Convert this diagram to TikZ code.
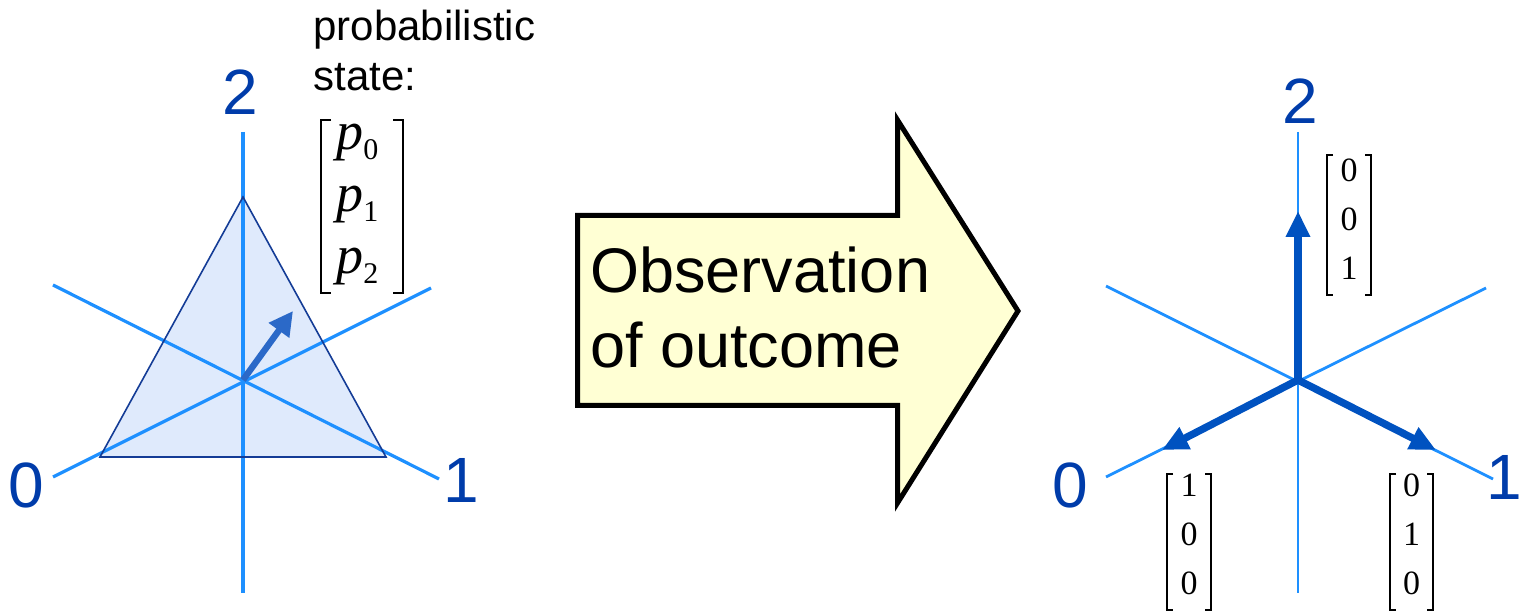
\documentclass[tikz,border=0pt]{standalone}
\usepackage{fontspec}
\setmainfont{Liberation Sans}
\newfontfamily\tnr{Liberation Serif}
\usetikzlibrary{arrows.meta}
\definecolor{axisblue}{RGB}{30,144,255}
\definecolor{labelblue}{RGB}{0,60,170}
\definecolor{stateblue}{RGB}{43,105,200}
\definecolor{resblue}{RGB}{0,82,192}
\definecolor{trifill}{RGB}{223,234,252}
\definecolor{triline}{RGB}{20,60,150}
\definecolor{yellowfill}{RGB}{255,255,212}
\begin{document}
\begin{tikzpicture}[x=0.5pt,y=-0.5pt,
  axis/.style={draw=axisblue, line width=1.6pt},
  lbl/.style={text=labelblue, font=\fontsize{32}{38}\selectfont, inner sep=0pt, anchor=base},
  brk/.style={draw=black, line width=1.1pt},
  ent/.style={font=\tnr\fontsize{17}{20}\selectfont, inner sep=0pt, anchor=base},
  pent/.style={inner sep=0pt, anchor=base west},
  txt/.style={inner sep=0pt, anchor=base west},
  resarrow/.style={draw=resblue, line width=3.7pt, -{Triangle[length=13pt,width=11.5pt]}},
  statearrow/.style={draw=stateblue, line width=3.2pt, -{Triangle[length=12pt,width=12pt]}}
]
\useasboundingbox (0,0) rectangle (1522,613);
\newcommand{\pp}[1]{{\tnr\fontsize{27}{30}\selectfont\itshape p}{\tnr\fontsize{15}{17}\selectfont\raisebox{-5pt}{#1}}}

% ---------- left diagram ----------
\coordinate (C) at (243,380);
\coordinate (T2) at (243,197);
\coordinate (T0) at (100,457);
\coordinate (T1) at (386,457);
\fill[trifill] (T2) -- (T0) -- (T1) -- cycle;
\coordinate (Vt) at (243,132);
\coordinate (Vb) at (243,593);
\coordinate (UL) at (53,285);
\coordinate (UR) at (431,288);
\coordinate (LL) at (53,477);
\coordinate (LR) at (439,479);
\draw[axis] (Vt) -- (Vb);
\draw[axis] (UL) -- (LR);
\draw[axis] (LL) -- (UR);
\draw[triline, line width=0.8pt, line join=miter] (T2) -- (T0) -- (T1) -- cycle;
\coordinate (S) at (293,311);
\draw[statearrow] (C) -- (S);

\node[lbl] (l2) at (240,115) {2};
\node[lbl] (l0) at (26.5,508) {0};
\node[lbl] (l1) at (461,503) {1};

\node[txt, font=\fontsize{21}{25}\selectfont] (prob) at (313,41) {probabilistic};
\node[txt, font=\fontsize{21}{25}\selectfont] (state) at (313,91) {state:};

\draw[brk] (331,120) -- (321,120) -- (321,293) -- (331,293);
\draw[brk] (393,120) -- (403,120) -- (403,293) -- (393,293);
\node[pent] (p0) at (336,150) {\pp{0}};
\node[pent] (p1) at (336,212) {\pp{1}};
\node[pent] (p2) at (336,274) {\pp{2}};

% ---------- big arrow ----------
\draw[line width=2.5pt, fill=yellowfill, line join=miter]
  (577.5,215.5) -- (897.5,215.5) -- (897.5,120) -- (1018,311) -- (897.5,503) -- (897.5,405.5) -- (577.5,405.5) -- cycle;
\node[txt, font=\fontsize{31.5}{38}\selectfont] (obs) at (590,293) {Observation};
\node[txt, font=\fontsize{31.5}{38}\selectfont] (out) at (590,368) {of outcome};

% ---------- right diagram ----------
\coordinate (RC) at (1298,380);
\coordinate (RVt) at (1298,132);
\coordinate (RVb) at (1298,593);
\coordinate (RUL) at (1106,286);
\coordinate (RUR) at (1486,288);
\coordinate (RLL) at (1106,477);
\coordinate (RLR) at (1493,479);
\draw[axis, line width=1.4pt] (RVt) -- (RVb);
\draw[axis, line width=1.4pt] (RUL) -- (RLR);
\draw[axis, line width=1.4pt] (RLL) -- (RUR);
\coordinate (A2) at (1298,211);
\coordinate (A0) at (1162,450);
\coordinate (A1) at (1436,450);
\draw[resarrow] (RC) -- (A2);
\draw[resarrow] (RC) -- (A0);
\draw[resarrow] (RC) -- (A1);

\node[lbl] (r2) at (1300,124) {2};
\node[lbl] (r0) at (1070,508) {0};
\node[lbl] (r1) at (1504,500) {1};

% matrix [0;0;1]
\draw[brk] (1333,155) -- (1327,155) -- (1327,295) -- (1333,295);
\draw[brk] (1365,155) -- (1371,155) -- (1371,295) -- (1365,295);
\node[ent] (a0) at (1349,182) {0};
\node[ent] (a1) at (1349,231) {0};
\node[ent] (a2) at (1349,280) {1};
% matrix [1;0;0]
\draw[brk] (1173,474) -- (1167,474) -- (1167,610) -- (1173,610);
\draw[brk] (1205,474) -- (1211,474) -- (1211,610) -- (1205,610);
\node[ent] (b0) at (1189,497) {1};
\node[ent] (b1) at (1189,546) {0};
\node[ent] (b2) at (1189,595) {0};
% matrix [0;1;0]
\draw[brk] (1396,474) -- (1390,474) -- (1390,610) -- (1396,610);
\draw[brk] (1427,474) -- (1433,474) -- (1433,610) -- (1427,610);
\node[ent] (c0) at (1411.5,497) {0};
\node[ent] (c1) at (1411.5,546) {1};
\node[ent] (c2) at (1411.5,595) {0};
\end{tikzpicture}
\end{document}
